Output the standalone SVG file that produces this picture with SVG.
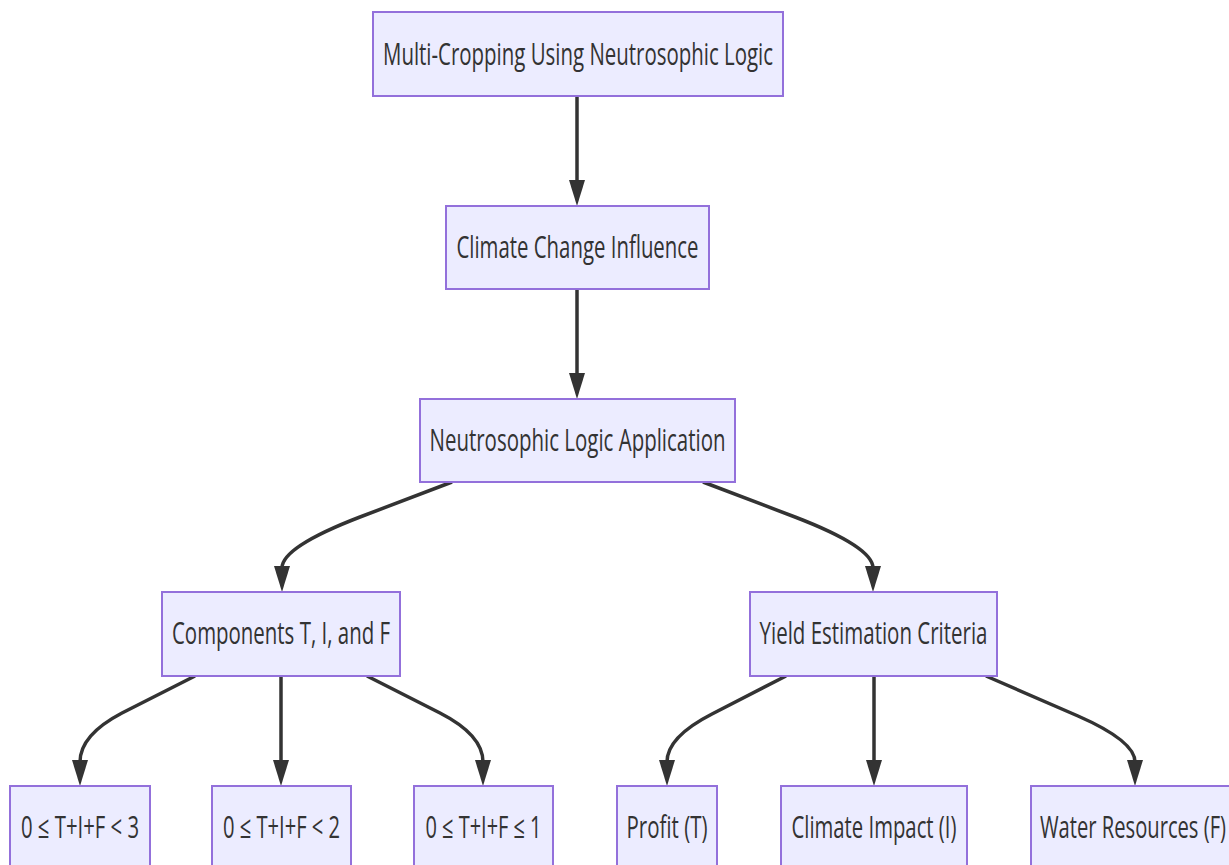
<svg xmlns="http://www.w3.org/2000/svg" width="1229" height="865" viewBox="0 0 1229 865">
<defs>
<style>
.node rect{fill:#ECECFF;stroke:#9370DB;stroke-width:2}
.node text{font-family:"Open Sans","Liberation Sans",sans-serif;font-size:31px;fill:#333;text-anchor:middle}
.edge{fill:none;stroke:#333;stroke-width:3.5}
.head{fill:#333}
</style>
</defs>
<rect width="1229" height="865" fill="#fff"/>
<g id="edges">
<path class="edge" d="M577,96 L577,182"/>
<polygon class="head" points="569,180 585,180 577,206"/>
<path class="edge" d="M577,289 L577,375"/>
<polygon class="head" points="569,373 585,373 577,399"/>
<path class="edge" d="M452,482 L360,517 Q282,547 282,568"/>
<polygon class="head" points="274,566 290,566 282,592"/>
<path class="edge" d="M703,482 L795,517 Q873,547 873,568"/>
<polygon class="head" points="865,566 881,566 873,592"/>
<path class="edge" d="M195,676 L122,713 Q80,735 80,762"/>
<polygon class="head" points="72,760 88,760 80,786"/>
<path class="edge" d="M281,676 L281,762"/>
<polygon class="head" points="273,760 289,760 281,786"/>
<path class="edge" d="M367,676 L440,713 Q483,735 483,762"/>
<polygon class="head" points="475,760 491,760 483,786"/>
<path class="edge" d="M786,676 L712,714 Q667,737 667,762"/>
<polygon class="head" points="659,760 675,760 667,786"/>
<path class="edge" d="M874,676 L874,762"/>
<polygon class="head" points="866,760 882,760 874,786"/>
<path class="edge" d="M986,676 L1078,716 Q1135,741 1135,762"/>
<polygon class="head" points="1127,760 1143,760 1135,786"/>
</g>
<g id="n1" class="node"><rect x="373" y="12" width="410" height="84"/><text x="578" y="65" textLength="390" lengthAdjust="spacingAndGlyphs">Multi-Cropping Using Neutrosophic Logic</text></g>
<g id="n2" class="node"><rect x="446" y="206" width="263" height="83"/><text x="577.5" y="258" textLength="242" lengthAdjust="spacingAndGlyphs">Climate Change Influence</text></g>
<g id="n3" class="node"><rect x="420" y="399" width="315" height="83"/><text x="577.5" y="451" textLength="296" lengthAdjust="spacingAndGlyphs">Neutrosophic Logic Application</text></g>
<g id="n4" class="node"><rect x="162" y="592" width="238" height="84"/><text x="281" y="644" textLength="218" lengthAdjust="spacingAndGlyphs">Components T, I, and F</text></g>
<g id="n5" class="node"><rect x="750" y="592" width="247" height="84"/><text x="873.5" y="644" textLength="228" lengthAdjust="spacingAndGlyphs">Yield Estimation Criteria</text></g>
<g id="n6" class="node"><rect x="10" y="786" width="140" height="84"/><text x="80" y="838" textLength="118" lengthAdjust="spacingAndGlyphs">0 ≤ T+I+F &lt; 3</text></g>
<g id="n7" class="node"><rect x="212" y="786" width="139" height="84"/><text x="281.5" y="838" textLength="117" lengthAdjust="spacingAndGlyphs">0 ≤ T+I+F &lt; 2</text></g>
<g id="n8" class="node"><rect x="414" y="786" width="139" height="84"/><text x="483.5" y="838" textLength="116" lengthAdjust="spacingAndGlyphs">0 ≤ T+I+F ≤ 1</text></g>
<g id="n9" class="node"><rect x="617" y="786" width="100" height="84"/><text x="667" y="838" textLength="81" lengthAdjust="spacingAndGlyphs">Profit (T)</text></g>
<g id="n10" class="node"><rect x="781" y="786" width="186" height="84"/><text x="874" y="838" textLength="165" lengthAdjust="spacingAndGlyphs">Climate Impact (I)</text></g>
<g id="n11" class="node"><rect x="1031" y="786" width="208" height="84"/><text x="1133" y="838" textLength="186" lengthAdjust="spacingAndGlyphs">Water Resources (F)</text></g>
</svg>
